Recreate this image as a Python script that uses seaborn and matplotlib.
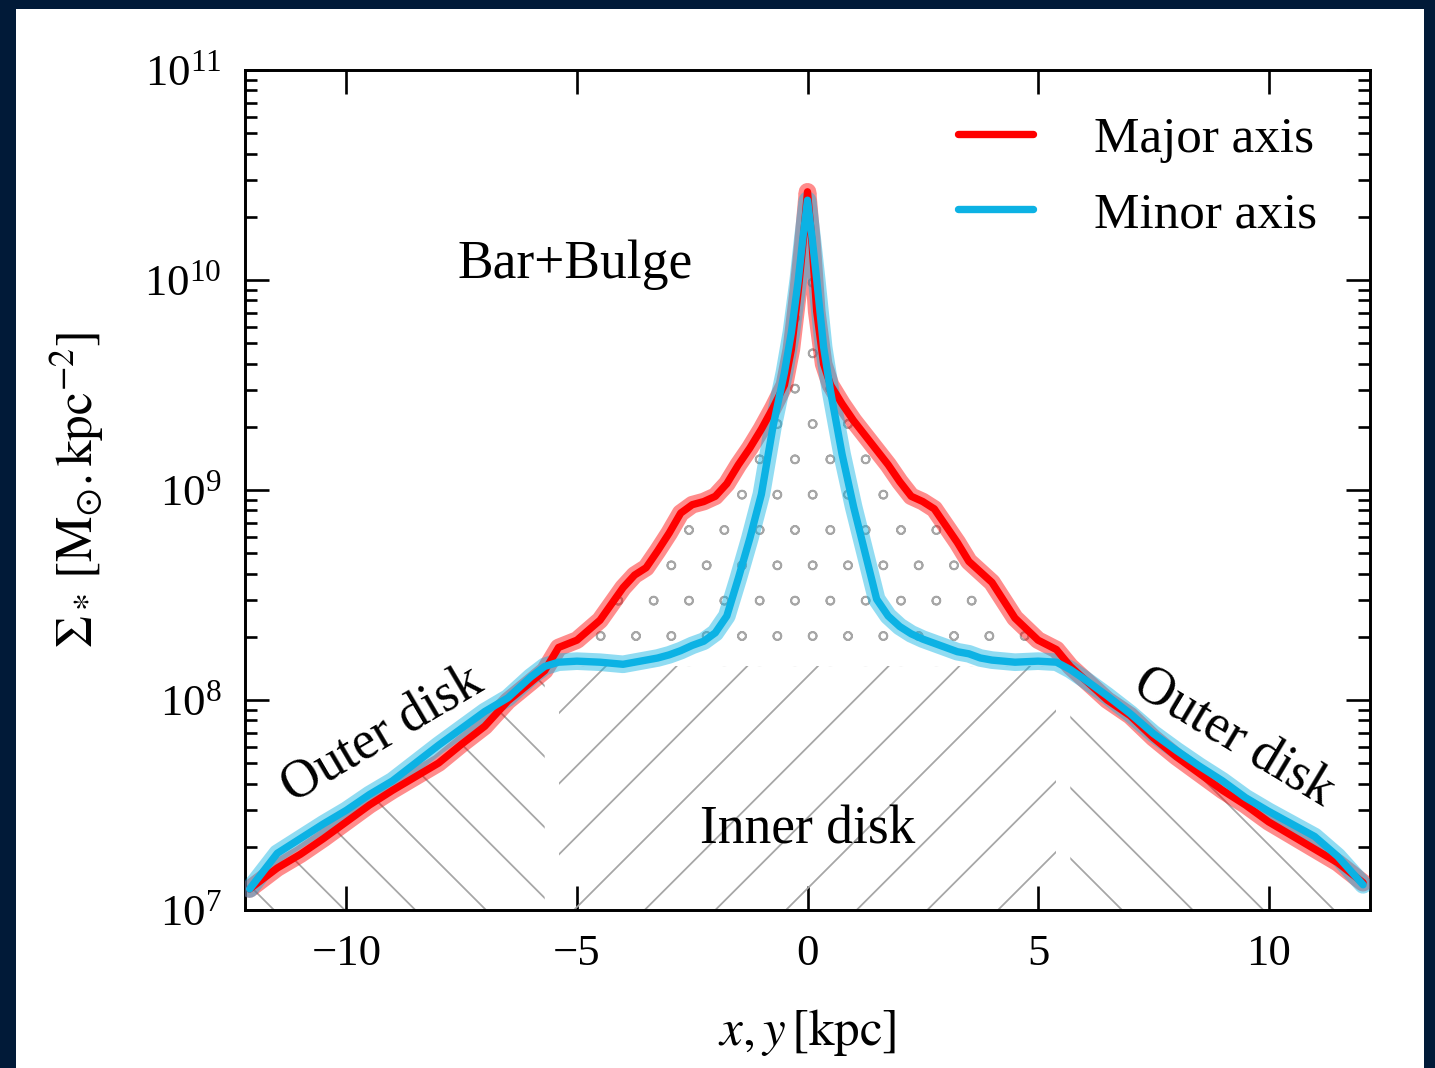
import numpy as np
import pandas as pd
import matplotlib
matplotlib.use("Agg")
import matplotlib.pyplot as plt
import matplotlib.hatch as mhatch
from matplotlib.patches import Rectangle
from matplotlib.lines import Line2D
from matplotlib.ticker import LogLocator, NullLocator
import seaborn as sns

# ---------------- data ----------------
x_kpc = [-12.1, -11.5, -11.0, -10.5, -10.0, -9.5, -9.0, -8.5, -8.0, -7.5, -7.0,
         -6.5, -6.0, -5.7, -5.4, -5.0, -4.5, -4.0, -3.75, -3.5, -3.25, -3.0,
         -2.75, -2.5, -2.25, -2.0, -1.75, -1.5, -1.25, -1.0, -0.75, -0.5, -0.35,
         -0.2, -0.1, 0.0, 0.1, 0.2, 0.35, 0.5, 0.75, 1.0, 1.25, 1.5, 1.75, 2.0,
         2.25, 2.5, 2.75, 3.0, 3.25, 3.5, 3.75, 4.0, 4.5, 5.0, 5.4, 5.7, 6.0,
         6.5, 7.0, 7.5, 8.0, 8.5, 9.0, 9.5, 10.0, 10.5, 11.0, 11.5, 12.05]

# log10 of surface density [Msun kpc^-2]
log_sigma_major = [7.10, 7.20, 7.265, 7.34, 7.42, 7.50, 7.57, 7.635, 7.70, 7.79, 7.875,
                   7.995, 8.085, 8.14, 8.25, 8.285, 8.38, 8.535, 8.595, 8.63, 8.71, 8.795,
                   8.89, 8.93, 8.945, 8.97, 9.03, 9.12, 9.20, 9.29, 9.39, 9.50, 9.67,
                   9.95, 10.17, 10.42, 10.17, 9.85, 9.60, 9.50, 9.41, 9.33, 9.26, 9.19, 9.12, 9.04,
                   8.97, 8.945, 8.91, 8.83, 8.75, 8.66, 8.61, 8.56, 8.39, 8.285, 8.24, 8.16, 8.10,
                   8.00, 7.925, 7.82, 7.73, 7.65, 7.57, 7.50, 7.42, 7.355, 7.29, 7.225, 7.13]

log_sigma_minor = [7.10, 7.27, 7.34, 7.41, 7.475, 7.55, 7.615, 7.70, 7.785, 7.865, 7.945,
                   8.01, 8.11, 8.16, 8.18, 8.185, 8.18, 8.17, 8.18, 8.19, 8.20, 8.215,
                   8.235, 8.26, 8.28, 8.32, 8.40, 8.58, 8.77, 8.98, 9.30, 9.56, 9.75,
                   10.0, 10.2, 10.38, 10.2, 10.0, 9.68, 9.47, 9.17, 8.92, 8.70, 8.48, 8.40, 8.35,
                   8.315, 8.29, 8.27, 8.25, 8.23, 8.22, 8.20, 8.19, 8.18, 8.185, 8.18, 8.145, 8.10,
                   8.02, 7.935, 7.84, 7.76, 7.685, 7.615, 7.535, 7.47, 7.41, 7.35, 7.255, 7.12]

series_names = ["Major axis", "Minor axis"]
series_colors = ["#ff0000", "#0cb2e4"]

sigma_inner_top = 1.45e8      # boundary between inner disk and bar+bulge
inner_disk_edge = 5.4         # |x| limit of inner disk / bar+bulge region [kpc]
outer_disk_edge = 5.7         # |x| start of outer disk region [kpc]

x_ticks = [-10, -5, 0, 5, 10]
region_names = ["Bar+Bulge", "Inner disk", "Outer disk", "Outer disk"]

# ---------------- style ----------------
sns.set_style("ticks")
plt.rcParams.update({
    "font.family": ["Liberation Serif", "DejaVu Serif"],
    "mathtext.fontset": "stix",
    "hatch.linewidth": 0.3,
    "hatch.color": "#a6a6a6",
    "axes.linewidth": 0.5,
    "axes.edgecolor": "black",
    "text.color": "black",
    "axes.labelcolor": "black",
    "xtick.color": "black",
    "ytick.color": "black",
})
mhatch.SmallCircles.size = 0.115

DPI = 424
W, H = 1435, 1068
fig = plt.figure(figsize=(W / DPI, H / DPI), dpi=DPI, facecolor="#011a38")
fig.add_artist(Rectangle((16 / W, 0), (1424 - 16) / W, 1 - 9 / H,
                         transform=fig.transFigure, facecolor="white",
                         edgecolor="none", zorder=-10))
ax = fig.add_axes([245 / W, 1 - 910 / H, (1370 - 245) / W, (910 - 70) / H])
ax.set_facecolor("white")

x = np.array(x_kpc)
major = 10 ** np.array(log_sigma_major)
minor = 10 ** np.array(log_sigma_minor)
bottom = 1e7

hcol = "#a6a6a6"
# outer disk regions
ax.fill_between(x, bottom, np.minimum(major, minor), where=x <= -outer_disk_edge,
                facecolor="none", edgecolor=hcol, linewidth=0, hatch="\\\\", zorder=1)
ax.fill_between(x, bottom, np.minimum(major, minor), where=x >= outer_disk_edge,
                facecolor="none", edgecolor=hcol, linewidth=0, hatch="\\\\", zorder=1)
# inner disk
inner = np.abs(x) <= inner_disk_edge + 1e-9
ax.fill_between(x, bottom, sigma_inner_top, where=inner,
                facecolor="none", edgecolor=hcol, linewidth=0, hatch="//", zorder=1)
# bar + bulge
ax.fill_between(x, sigma_inner_top, major, where=inner,
                facecolor="none", edgecolor=hcol, linewidth=0, hatch="oo", zorder=1)

df = pd.DataFrame({
    "x": np.concatenate([x, x]),
    "sigma": np.concatenate([major, minor]),
    "profile": [series_names[0]] * len(x) + [series_names[1]] * len(x),
})
pal = dict(zip(series_names, series_colors))

# translucent band
sns.lineplot(data=df, x="x", y="sigma", hue="profile", palette=pal, estimator=None,
             linewidth=3.0, alpha=0.45, legend=False, ax=ax, zorder=3)
# main curves
sns.lineplot(data=df, x="x", y="sigma", hue="profile", palette=pal, estimator=None,
             linewidth=1.25, legend=False, ax=ax, zorder=4)

ax.set_yscale("log")
ax.set_ylim(1e7, 1e11)
ax.set_xlim(-12.2, 12.2)
ax.set_xticks(x_ticks)
ax.xaxis.set_minor_locator(NullLocator())
ax.yaxis.set_major_locator(LogLocator(base=10, numticks=10))
ax.yaxis.set_minor_locator(LogLocator(base=10, subs=np.arange(2, 10), numticks=20))
ax.tick_params(which="both", direction="in", top=True, right=True, width=0.45,
               color="black")
ax.tick_params(which="major", length=4.1, labelsize=7.6, pad=4.0)
ax.tick_params(which="minor", length=2.0)
for s in ax.spines.values():
    s.set_linewidth(0.5)

ax.set_xlabel(r"$x, y\,[\mathrm{kpc}]$", fontsize=8.7)
ax.set_ylabel(r"$\Sigma_*\,[\mathrm{M}_{\odot}.\mathrm{kpc}^{-2}]$", fontsize=8.7)
ax.xaxis.set_label_coords(0.5, -0.115)
ax.yaxis.set_label_coords(-0.124, 0.5)

handles = [Line2D([0], [0], color=c, lw=1.25) for c in series_colors]
ax.legend(handles, series_names, loc="upper left", bbox_to_anchor=(0.634, 0.945),
          frameon=False, fontsize=8.7, borderpad=0, borderaxespad=0,
          handlelength=1.45, handletextpad=1.2, labelspacing=0.55)

ax.text(-5.04, 1.18e10, region_names[0], fontsize=9.1, ha="center", va="center")
ax.text(0.0, 2.4e7, region_names[1], fontsize=9.1, ha="center", va="center")
ax.text(-9.22, 6.8e7, region_names[2], fontsize=9.1, ha="center", va="center",
        rotation=30.5, rotation_mode="anchor")
ax.text(9.24, 6.6e7, region_names[3], fontsize=9.1, ha="center", va="center",
        rotation=-31, rotation_mode="anchor")

fig.savefig("out.png", dpi=DPI, facecolor=fig.get_facecolor())
